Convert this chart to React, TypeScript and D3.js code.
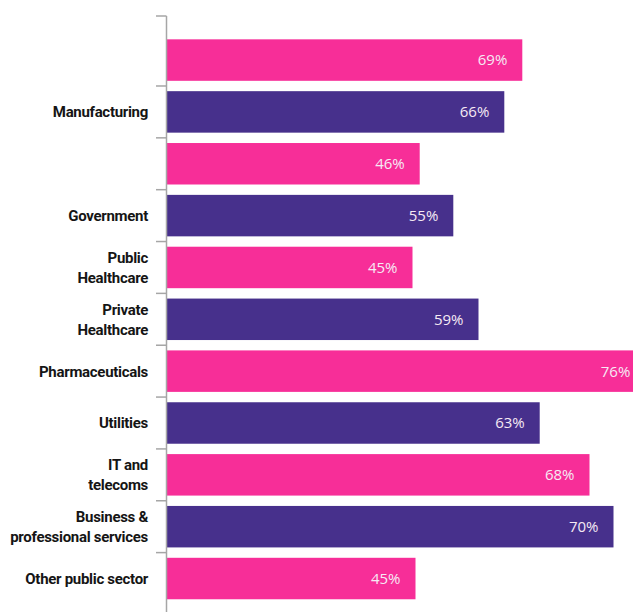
import React from "react";
import * as d3 from "d3";

const rowKeys = ["r1", "r2", "r3", "r4", "r5", "r6", "r7", "r8", "r9", "r10", "r11"];
const categoryLabels: string[][] = [
  [],
  ["Manufacturing"],
  [],
  ["Government"],
  ["Public", "Healthcare"],
  ["Private", "Healthcare"],
  ["Pharmaceuticals"],
  ["Utilities"],
  ["IT and", "telecoms"],
  ["Business &", "professional services"],
  ["Other public sector"],
];
// percentages printed on the bars
const shares = [69, 66, 46, 55, 45, 59, 76, 63, 68, 70, 45];
// bar lengths as drawn in the picture (same units)
const barLengths = [59.3, 56.3, 42.2, 47.8, 41, 52, 79.8, 62.2, 70.5, 74.5, 41.5];
const seriesOfRow = ["a", "b", "a", "b", "a", "b", "a", "b", "a", "b", "a"];

const W = 633;
const H = 612;

export default function App() {
  const y = d3
    .scaleBand<string>()
    .domain(rowKeys)
    .range([16, 622.6])
    .paddingInner(0.2)
    .paddingOuter(0.45);
  const x = d3.scaleLinear().domain([0, 100]).range([166.5, 766.5]);
  const color = d3.scaleOrdinal<string, string>().domain(["a", "b"]).range(["#f72e98", "#47308c"]);
  const step = y.step();
  const bw = y.bandwidth();
  const axisX = 166.5;
  const tickYs = [16, ...rowKeys.slice(1).map((k) => (y(k) as number) - (step * 0.2) / 2)];

  return (
    <svg width={W} height={H} style={{ position: "absolute", left: 0, top: 0, display: "block" }}>
      <rect width={W} height={H} fill="#ffffff" />
      {rowKeys.map((k, i) => {
        const y0 = y(k) as number;
        return (
          <g key={k}>
            <rect x={x(0)} y={y0} width={x(barLengths[i]) - x(0)} height={bw} fill={color(seriesOfRow[i])} />
            <text
              x={x(barLengths[i]) - 15}
              y={y0 + bw / 2}
              dy="0.36em"
              textAnchor="end"
              fontFamily="'Open Sans', sans-serif"
              fontSize={15}
              fill="#f6eaf4"
            >
              {shares[i]}%
            </text>
            {categoryLabels[i].map((line, j) => {
              const n = categoryLabels[i].length;
              const lh = 20;
              const cy = y0 + bw / 2 - ((n - 1) * lh) / 2 + j * lh;
              return (
                <text
                  key={j}
                  x={148}
                  y={cy}
                  dy="0.36em"
                  textAnchor="end"
                  fontFamily="Roboto, sans-serif"
                  fontWeight={700}
                  fontSize={15}
                  letterSpacing={-0.3}
                  fill="#151515"
                >
                  {line}
                </text>
              );
            })}
          </g>
        );
      })}
      <line x1={axisX} x2={axisX} y1={16} y2={H} stroke="#a6a6a6" strokeWidth={1.5} />
      {tickYs.map((ty, i) => (
        <line key={i} x1={156} x2={axisX} y1={ty} y2={ty} stroke="#a6a6a6" strokeWidth={1.5} />
      ))}
    </svg>
  );
}
